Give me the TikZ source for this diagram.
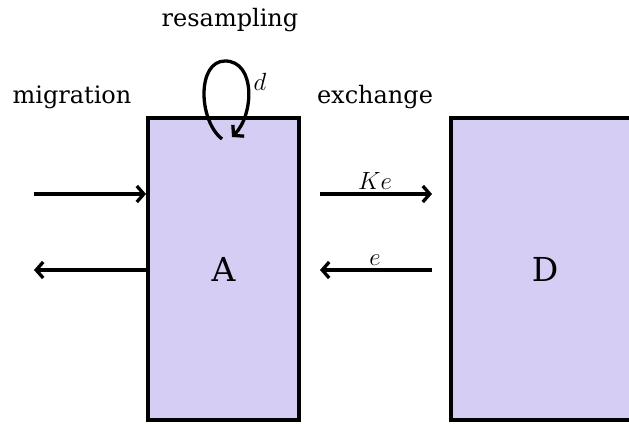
\documentclass[tikz,border=0pt]{standalone}
\usepackage{fontspec}
\setmainfont{DejaVu Serif}
\usetikzlibrary{arrows.meta, positioning, calc}
\definecolor{poolfill}{RGB}{214, 205, 245}

\begin{document}
\begin{tikzpicture}[
        x=1pt, y=1pt,
        pool/.style={rectangle, draw=black, line width=4pt, fill=poolfill, font=\fontsize{33}{38}\selectfont},
        lbl/.style={font=\fontsize{24}{28}\selectfont},
        rate/.style={font=\fontsize{26}{30}\selectfont, inner sep=3pt},
        arr/.style={-{Straight Barb[length=7pt, width=16pt]}, line width=3.3pt, black}
      ]
        \useasboundingbox (0,0) rectangle (629,423);
        \clip (0,0) rectangle (629,423);

        \node[pool, minimum width=151, minimum height=302] (A) at (223.5,154) {A};
        \node[pool, minimum width=192, minimum height=302, anchor=west] (D) at (449,154) {};
        \node[font=\fontsize{33}{38}\selectfont] (Dlbl) at (545,154) {D};

        \coordinate (migIn) at (34,229);
        \coordinate (migOut) at (34,153);

        % migration
        \draw[arr] (migIn) -- (migIn -| A.west);
        \draw[arr] (migOut -| A.west) -- (migOut);

        % exchange
        \draw[arr, shorten <=19pt, shorten >=17pt] (migIn -| A.east) -- (migIn -| D.west) node[midway, above, rate] {$Ke$};
        \draw[arr, shorten <=17pt, shorten >=19pt] (migOut -| D.west) -- (migOut -| A.east) node[midway, above, rate] {$e$};

        % resampling loop
        \coordinate (loopS) at (222,284);
        \coordinate (loopE) at (232,286);
        \draw[arr] (loopS) .. controls (198,303) and (197,362) .. (225,362)
                   .. controls (256,362) and (254,308) .. (loopE);

        \node[rate] (dlbl) at (260,341) {$d$};
        \node[lbl] (mig) at (72,326) {migration};
        \node[lbl] (exch) at (375,326) {exchange};
        \node[lbl] (resamp) at (230,403) {resampling};
      \end{tikzpicture}
\end{document}
